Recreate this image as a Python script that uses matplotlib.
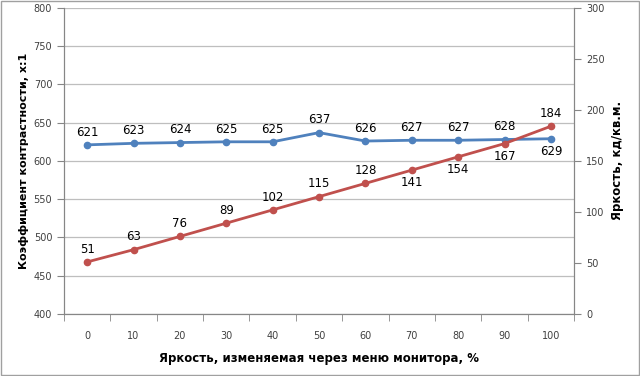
import matplotlib.pyplot as plt
import numpy as np
from matplotlib.patches import Rectangle

levels = [0, 10, 20, 30, 40, 50, 60, 70, 80, 90, 100]
contrast = [621, 623, 624, 625, 625, 637, 626, 627, 627, 628, 629]
brightness = [51, 63, 76, 89, 102, 115, 128, 141, 154, 167, 184]
# label above (1) or below (-1) each point
contrast_pos = [1, 1, 1, 1, 1, 1, 1, 1, 1, 1, -1]
brightness_pos = [1, 1, 1, 1, 1, 1, 1, -1, -1, -1, 1]

blue = '#4F81BD'
red = '#C0504D'
axis_gray = '#868686'
plt.rcParams['font.family'] = ['DejaVu Sans']

fig = plt.figure(figsize=(6.4, 3.76), dpi=100)
ax = fig.add_axes([0.1, 0.165, 0.797, 0.814])
ax2 = ax.twinx()

x = np.arange(len(levels))
ax.plot(x, contrast, color=blue, lw=2, marker='o', ms=4.5, zorder=3)
ax2.plot(x, brightness, color=red, lw=2, marker='o', ms=4.5, zorder=3)

for xi, v, p in zip(x, contrast, contrast_pos):
    ax.annotate(str(v), (xi, v), xytext=(0, 4.5 * p), textcoords='offset points',
                ha='center', va='bottom' if p > 0 else 'top', fontsize=8.5)
for xi, v, p in zip(x, brightness, brightness_pos):
    ax2.annotate(str(v), (xi, v), xytext=(0, 4.5 * p), textcoords='offset points',
                 ha='center', va='bottom' if p > 0 else 'top', fontsize=8.5)

ax.set_xlim(-0.5, len(levels) - 0.5)
ax.set_ylim(400, 800)
ax2.set_ylim(0, 300)
ax.set_yticks(np.arange(400, 801, 50))
ax2.set_yticks(np.arange(0, 301, 50))
ax.set_xticks(x)
ax.set_xticklabels([str(l) for l in levels])
ax.set_xticks(np.arange(-0.5, len(levels), 1), minor=True)
ax.tick_params(axis='x', which='major', length=0, pad=12, labelsize=7, colors='#404040')
ax.tick_params(axis='x', which='minor', length=5, color=axis_gray)
ax.tick_params(axis='y', length=5, color=axis_gray, labelsize=7, labelcolor='#404040')
ax2.tick_params(axis='y', length=5, color=axis_gray, labelsize=7, labelcolor='#404040')

ax.grid(axis='y', color='#BEBEBE', lw=0.9)
ax.set_axisbelow(True)
for a in (ax, ax2):
    a.spines['top'].set_visible(False)
    for s in ('left', 'right', 'bottom'):
        a.spines[s].set_color(axis_gray)

ax.set_ylabel('Коэффициент контрастности, x:1', fontsize=8, fontweight='bold', labelpad=3)
ax2.set_ylabel('Яркость, кд/кв.м.', fontsize=8.5, fontweight='bold', labelpad=5)
ax.set_xlabel('Яркость, изменяемая через меню монитора, %', fontsize=8.5, fontweight='bold', labelpad=8)

fig.patches.append(Rectangle((0.001, 0.002), 0.997, 0.995, transform=fig.transFigure,
                             fill=False, edgecolor='#A0A0A0', lw=1))

plt.savefig('out.png', dpi=100)
